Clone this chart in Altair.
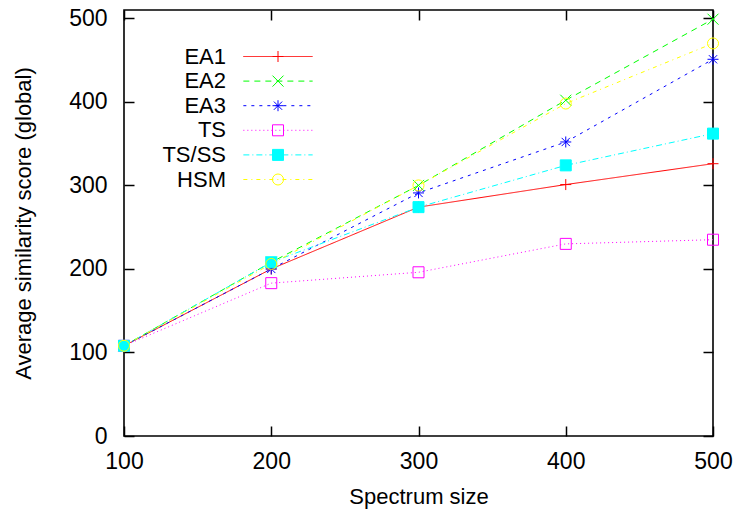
import altair as alt
import pandas as pd

# ---- data ----
spectrum_size = [100, 200, 300, 400, 500]
series_names = ["EA1", "EA2", "EA3", "TS", "TS/SS", "HSM"]
ea1 = [108, 200, 274, 301, 326]
ea2 = [108, 208, 300, 402, 499]
ea3 = [108, 200, 291, 352, 451]
ts = [108, 183, 196, 230, 235]
ts_ss = [108, 208, 274, 324, 362]
hsm = [108, 206, 300, 398, 470]
all_values = [ea1, ea2, ea3, ts, ts_ss, hsm]

# ---- styles ----
series_colors = ["#ff0000", "#00ff00", "#0000ff", "#ff00ff", "#00ffff", "#ffff00"]
series_dashes = [[1, 0], [6, 5], [3, 5], [1, 3], [6, 3, 1, 3], [4, 4, 1, 4]]
marker_paths = [
    "M-1,0H1M0,-1V1",
    "M-1,-1L1,1M-1,1L1,-1",
    "M-1,0H1M0,-1V1M-0.75,-0.75L0.75,0.75M-0.75,0.75L0.75,-0.75",
    "M-1,-1H1V1H-1Z",
    "M-1,-1H1V1H-1Z",
    "circle",
]
marker_fills = ["transparent", "transparent", "transparent", "transparent", "#00ffff", "transparent"]
marker_keys = [s + " " for s in series_names]

rows = []
for name, key, vals in zip(series_names, marker_keys, all_values):
    for xv, yv in zip(spectrum_size, vals):
        rows.append({"series": name, "mk": key, "size": xv, "score": yv})
df = pd.DataFrame(rows)

FONT = "Liberation Sans"
FS = 23
W, H = 589, 426
LX, LY = 143, 35.5

x_scale = alt.Scale(domain=[100, 500], nice=False, zero=False)
y_scale = alt.Scale(domain=[0, 510], nice=False)

legend_common = dict(
    orient="none", legendX=LX, legendY=LY, title=None, padding=0,
    symbolSize=121, symbolStrokeWidth=1, labelFont=FONT, labelFontSize=FS - 1,
    labelColor="black", labelAlign="right", labelOffset={"expr": "-63"}, rowPadding=2.6,
)

base = alt.Chart(df)

lines = base.mark_line(strokeWidth=1, clip=False).encode(
    x=alt.X("size:Q", scale=x_scale, axis=alt.Axis(
        orient="bottom", title="Spectrum size", values=spectrum_size, format="d",
        ticks=False, tickSize=0, domain=False, grid=False, labelPadding=14,
        labelFlush=False, labelOverlap=False, titlePadding=13)),
    y=alt.Y("score:Q", scale=y_scale, axis=alt.Axis(
        orient="left", title="Average similarity score (global)",
        values=[0, 100, 200, 300, 400, 500], format="d",
        ticks=False, tickSize=0, domain=False, grid=False, labelPadding=17,
        labelFlush=False, labelOverlap=False, titlePadding=33)),
    color=alt.Color("series:N", scale=alt.Scale(domain=series_names, range=series_colors),
                    legend=alt.Legend(symbolType="M-6.3,0H6.3", **legend_common)),
    strokeDash=alt.StrokeDash("series:N", scale=alt.Scale(domain=series_names, range=series_dashes),
                              legend=alt.Legend(symbolType="M-6.3,0H6.3", **legend_common)),
    detail="series:N",
)

marker_legend = dict(legend_common)
marker_legend["labelOpacity"] = 0

points = base.mark_point(size=121, strokeWidth=1, opacity=1, filled=False).encode(
    x=alt.X("size:Q", scale=x_scale, axis=alt.Axis(
        orient="top", offset=-H, title=None, labels=False, domain=False, grid=False,
        values=spectrum_size, ticks=True, tickSize=10, tickWidth=1.5, tickColor="black")),
    y=alt.Y("score:Q", scale=y_scale, axis=alt.Axis(
        orient="right", offset=-W, title=None, labels=False, domain=False, grid=False,
        values=[0, 100, 200, 300, 400, 500], ticks=True, tickSize=10, tickWidth=1.5,
        tickColor="black")),
    stroke=alt.Stroke("mk:N", scale=alt.Scale(domain=marker_keys, range=series_colors),
                      legend=alt.Legend(**marker_legend)),
    shape=alt.Shape("mk:N", scale=alt.Scale(domain=marker_keys, range=marker_paths),
                    legend=alt.Legend(**marker_legend)),
    fill=alt.Fill("mk:N", scale=alt.Scale(domain=marker_keys, range=marker_fills),
                  legend=alt.Legend(**marker_legend)),
)

ticks_other = base.mark_point(opacity=0).encode(
    x=alt.X("size:Q", scale=x_scale, axis=alt.Axis(
        orient="bottom", offset=-H, title=None, labels=False, domain=False, grid=False,
        values=spectrum_size, ticks=True, tickSize=10, tickWidth=1.5, tickColor="black")),
    y=alt.Y("score:Q", scale=y_scale, axis=alt.Axis(
        orient="left", offset=-W, title=None, labels=False, domain=False, grid=False,
        values=[0, 100, 200, 300, 400, 500], ticks=True, tickSize=10, tickWidth=1.5,
        tickColor="black")),
)

chart = alt.layer(lines, points, ticks_other).resolve_axis(
    x="independent", y="independent"
).properties(
    width=W, height=H,
    background="white",
    autosize=alt.AutoSizeParams(type="none"),
    padding={"left": 116, "top": 2, "right": 20, "bottom": 73},
).configure_view(
    stroke="black", strokeWidth=1.6
).configure_axis(
    labelFont=FONT, labelFontSize=FS, labelColor="black",
    titleFont=FONT, titleFontSize=FS - 1, titleColor="black", titleFontWeight="normal",
)

chart.save("out.html", embed_options={"renderer": "svg", "actions": False})
